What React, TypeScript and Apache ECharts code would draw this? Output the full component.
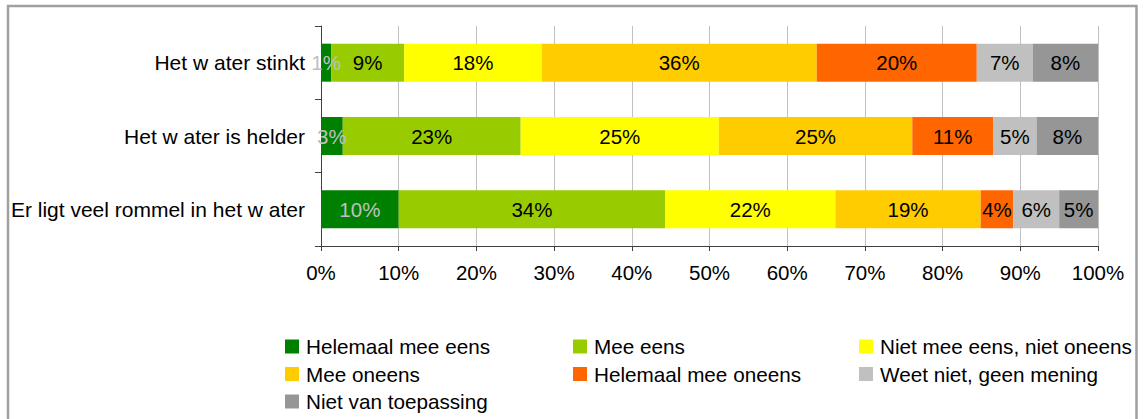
import React, { useEffect, useRef } from "react";
import * as echarts from "echarts";

const categories = ["Het w ater stinkt", "Het w ater is helder", "Er ligt veel rommel in het w ater"];

const seriesNames = [
  "Helemaal mee eens",
  "Mee eens",
  "Niet mee eens, niet oneens",
  "Mee oneens",
  "Helemaal mee oneens",
  "Weet niet, geen mening",
  "Niet van toepassing",
];

// bar shares, per series, per category
const helemaalMeeEens = [1.3, 2.8, 10.0];
const meeEens = [9.4, 22.9, 34.3];
const neutraal = [17.7, 25.5, 21.9];
const meeOneens = [35.4, 24.9, 18.7];
const helemaalMeeOneens = [20.6, 10.4, 4.2];
const weetNiet = [7.2, 5.6, 5.9];
const nietVanToepassing = [8.4, 7.9, 5.0];

// printed data labels (%)
const lblHelemaalMeeEens = [1, 3, 10];
const lblMeeEens = [9, 23, 34];
const lblNeutraal = [18, 25, 22];
const lblMeeOneens = [36, 25, 19];
const lblHelemaalMeeOneens = [20, 11, 4];
const lblWeetNiet = [7, 5, 6];
const lblNietVanToepassing = [8, 8, 5];

const xTicks = [0, 10, 20, 30, 40, 50, 60, 70, 80, 90, 100];

const values = [helemaalMeeEens, meeEens, neutraal, meeOneens, helemaalMeeOneens, weetNiet, nietVanToepassing];
const labels = [lblHelemaalMeeEens, lblMeeEens, lblNeutraal, lblMeeOneens, lblHelemaalMeeOneens, lblWeetNiet, lblNietVanToepassing];
const colors = ["#008000", "#99CC00", "#FFFF00", "#FFCC00", "#FF6600", "#C0C0C0", "#969696"];
const labelColors = ["#C0C0C0", "#000", "#000", "#000", "#000", "#000", "#000"];

const FONT = "'Liberation Sans', Arial, sans-serif";

export default function App() {
  const ref = useRef<HTMLDivElement>(null);
  useEffect(() => {
    if (!ref.current) return;
    const chart = echarts.init(ref.current, null, { renderer: "svg" });
    const legendCol = (names: string[], left: number) => ({
      orient: "vertical",
      left,
      top: 336,
      height: 83,
      padding: 0,
      itemWidth: 14,
      itemHeight: 14,
      itemGap: 6.5,
      icon: "rect",
      selectedMode: false,
      data: names,
      textStyle: { fontSize: 20.7, fontFamily: FONT, color: "#000", lineHeight: 20, padding: [0, 0, 0, 2] },
    });
    chart.setOption({
      animation: false,
      backgroundColor: "#fff",
      textStyle: { fontFamily: FONT },
      graphic: [
        {
          type: "rect",
          shape: { x: 8, y: 6, width: 1128.5, height: 440 },
          style: { fill: "none", stroke: "#A0A0A0", lineWidth: 2.5 },
          silent: true,
        },
      ],
      grid: { left: 321, top: 26, width: 777, height: 220, containLabel: false },
      legend: [
        legendCol([seriesNames[0], seriesNames[3], seriesNames[6]], 285),
        legendCol([seriesNames[1], seriesNames[4]], 573),
        legendCol([seriesNames[2], seriesNames[5]], 859),
      ],
      xAxis: {
        type: "value",
        min: xTicks[0],
        max: xTicks[xTicks.length - 1],
        interval: 10,
        axisLine: { show: true, lineStyle: { color: "#404040", width: 1 } },
        axisTick: { show: true, length: 5, lineStyle: { color: "#404040" } },
        axisLabel: { formatter: "{value}%", fontSize: 20.5, color: "#000", fontFamily: FONT, margin: 16 },
        splitLine: { show: true, lineStyle: { color: "#C0C0C0", width: 1 } },
      },
      yAxis: {
        type: "category",
        data: categories,
        inverse: true,
        axisLine: { show: true, lineStyle: { color: "#404040", width: 1 } },
        axisTick: { show: true, length: 6, lineStyle: { color: "#404040" } },
        axisLabel: { fontSize: 21, color: "#000", fontFamily: FONT, margin: 16 },
        splitLine: { show: false },
      },
      series: values.map((v, i) => ({
        name: seriesNames[i],
        type: "bar",
        stack: "total",
        barWidth: 38,
        data: v,
        itemStyle: { color: colors[i] },
        label: {
          show: true,
          position: "inside",
          fontSize: 20.5,
          fontFamily: FONT,
          color: labelColors[i],
          formatter: (p: any) => labels[i][p.dataIndex] + "%",
        },
      })),
    });
    return () => chart.dispose();
  }, []);
  return <div ref={ref} style={{ position: "fixed", left: 0, top: 0, width: 1144, height: 419 }} />;
}
